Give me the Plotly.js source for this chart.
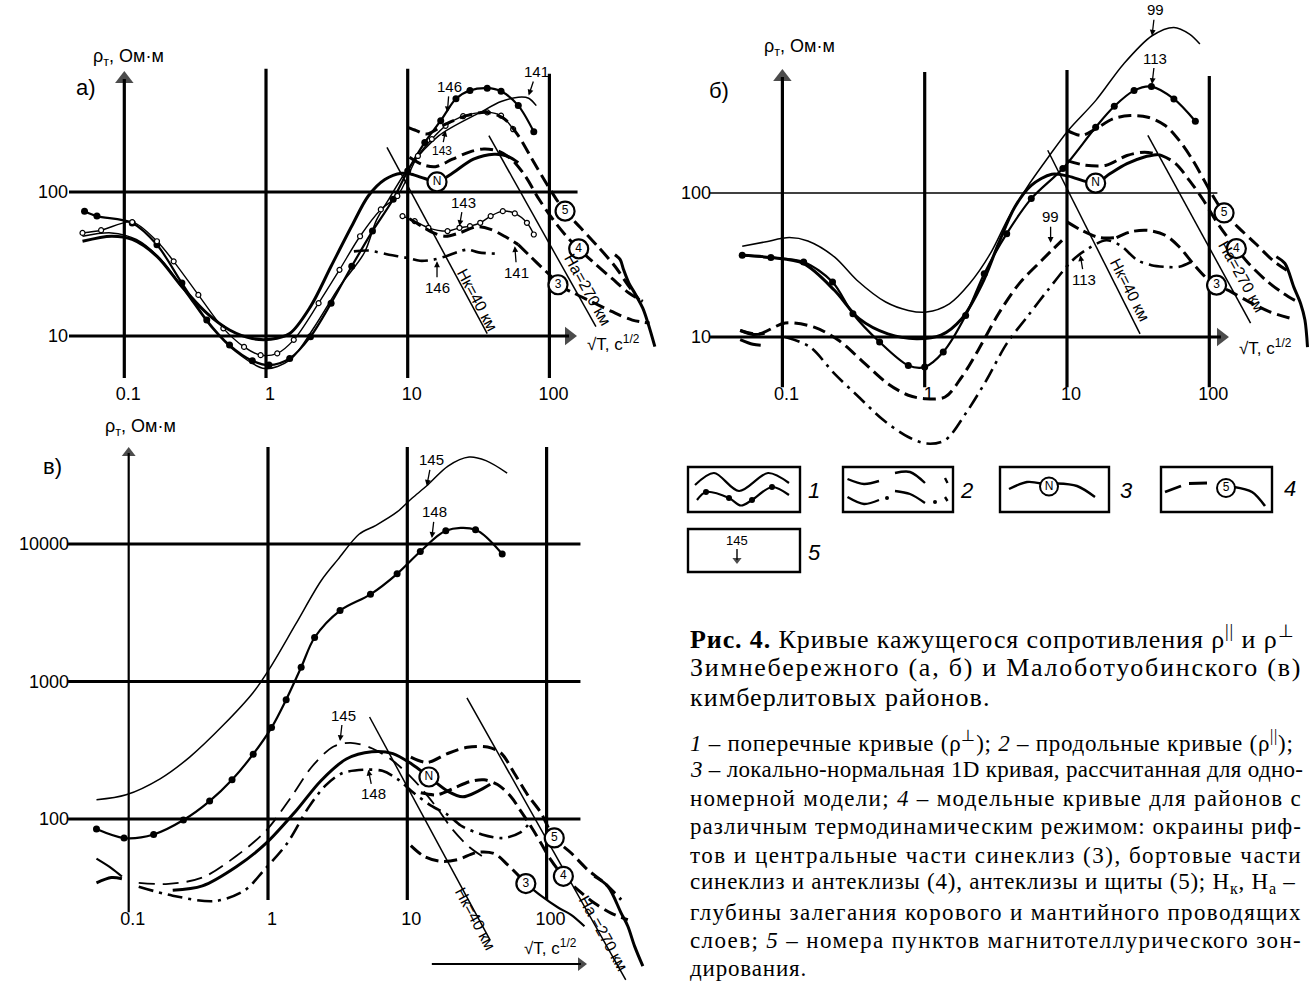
<!DOCTYPE html>
<html><head><meta charset="utf-8">
<script src="https://cdn.plot.ly/plotly-3.0.1.min.js"></script>
<style>html,body{margin:0;padding:0;background:#fff;}#chart{width:1310px;height:983px;}</style>
</head><body><div id="chart"></div>
<script>
// ================= DATA =================
// ---- Panel а) ----
const a_T146_x=[0.0524,0.0641,0.1137,0.170,0.255,0.382,0.553,0.801,1.05,1.47,2.06,2.88,4.03,5.64,7.9,10,13.2,17.1,21.9,27.5,36.4,45.6,60.3,77.6];
const a_T146_y=[73.6,68,61,43,23.3,12.9,8.65,6.73,6.28,6.98,9.9,16.9,30.5,53.5,89,140,221,313,444,507,526,501,398,262];
const a_T141_x=[0.0507,0.0811,0.1216,0.182,0.273,0.408,0.612,0.98,1.47,2.2,3.3,4.93,6.03,7.4,10,16.6,32.5,45.6,60.3,71.4,80.8];
const a_T141_y=[49.3,52,46.8,33.9,19.9,11.6,7.78,5.94,6.8,11.6,22,37.7,64,90,144,246,357,425,455,448,398];
const a_T143_x=[0.0507,0.0686,0.1137,0.170,0.223,0.333,0.5,0.7,0.916,1.2,1.57,2.35,3.3,4.61,6.46,8.45,11.8,14.8,18.5,24.6,36.4,45.6,55.5];
const a_T143_y=[52,54.3,61.8,45.5,33,19.3,11.3,8.4,7.36,7.57,9.4,16.9,28.8,49.3,75.7,93.8,178,233,288,336,357,339,273];
const a_N_x=[0.0507,0.0811,0.1137,0.170,0.255,0.382,0.553,0.80,1.08,1.47,2.06,2.88,4.03,5.27,6.9,9.04,10.6,13.2,16.1,20.2,29.1,40.7,51,60.3];
const a_N_y=[45.5,49.3,46.8,35.7,22,14.4,11,9.6,9.5,10.4,16,30.5,58,93.8,122,135,133,124,117.5,133,169,183,177,160];
const a_M5_x=[10,11.5,13.6,18.5,26,36.4,48.2,60.3,75.5,94.6,112,129,166,219,290,364,430];
const a_M5_y=[281,267,253,296,339,357,321,246,169,116,89,73.6,56.4,42,30.5,22.1,17.8];
const a_M4_x=[10.3,12.5,15.7,20.7,27.5,34.4,43.1,54,67.5,84.5,106,132,161,207,275,364,456];
const a_M4_y=[174,156,150,169,190,199,193,169,129,89,64.4,49.3,40.3,32.1,25.2,19.9,17.4];
const a_M3_x=[60.3,73.4,89.4,103,115,148,196,275,385,509];
const a_M3_y=[43.1,35.7,29.6,25.9,22.7,19.9,17.4,14.8,12.9,12.3];
const a_tail_x=[290,316,334,364,407,456,496,555];
const a_tail_y=[36.7,33.9,28.8,23.3,19.3,15.6,12.3,8.43];
const a_L143_x=[9.19,11.2,14,19.1,23.2,27.5,32.5,38.5,46.9,57,69.4,77.6];
const a_L143_y=[68,62.8,56.4,53.5,56.4,58,61.1,68,73.6,71,61.1,50.7];
const a_L141_x=[10.3,12.5,15.2,18.5,23.2,30.8,38.5,48.2,60.3];
const a_L141_y=[65.2,58,52,49.3,52,57.3,55,49.3,43.1];
const a_L146_x=[4.17,5.27,7.38,10,12.2,15.2,18.5,23.2,26.7,31.6,41.9];
const a_L146_y=[38.7,39.2,36.7,34.8,33.3,33.9,35.7,38.7,39.8,38.1,37.3];
const a_Hk_x=[7.14,36.4], a_Hk_y=[204,10.4];
const a_Ha_x=[37.4,213], a_Ha_y=[246,11.6];
const a_circ_x=[16.1,129,161,115], a_circ_y=[117.5,73.6,40.3,22.7], a_circ_t=['N','5','4','3'];
const a_lab_t=['146','141','143','143','141','146'];
const a_lab_x=[19.05,71.4,18.5,23.2,57,16.1], a_lab_y=[357,468,267,58,42,33];

// ---- Panel б) ----
const b_T99_x=[0.0522,0.0752,0.112,0.151,0.232,0.334,0.532,0.767,1.03,1.49,2.07,2.89,3.9,5.25,7.32,10.2,15.9,25,39.6,56.4,72.6,85.9];
const b_T99_y=[42.7,45.7,49,46.4,36,24.8,17.5,15.3,14.9,17,23.5,37.9,68,110,175,272,438,787,1236,1413,1271,1084];
const b_T113_x=[0.0522,0.083,0.141,0.225,0.313,0.482,0.767,1.0,1.35,1.94,2.62,3.77,5.61,9.35,15.9,21.5,29.6,39.2,56.4,79.8];
const b_T113_y=[36.9,35.6,33.2,24.1,14.5,9.23,6.35,6.19,7.87,14.1,27.5,52.2,91.4,148,286,400,514,548,450,315];
const b_N_x=[0.0522,0.083,0.141,0.232,0.346,0.551,0.875,1.30,1.82,2.53,3.3,4.3,5.61,7.82,10.2,15.9,20,26.4,35,43.8];
const b_N_y=[36.9,35.6,32.3,21.1,13.4,10.5,9.73,10.3,13.4,23.4,44.5,80,113,135,131,117,136,160,178,185];
const b_M5_x=[10,12.7,15.9,21.1,27.9,37,49,61.4,76.8,93.5,110.7,127,159,211,279,350];
const b_M5_y=[272,251,279,328,345,336,294,232,168,119,89,72.7,58,44.6,34.1,29.1];
const b_M4_x=[10,13.5,18.9,26.4,35,46.3,58,72.6,91,110.7,131,155,189,250,331,414];
const b_M4_y=[168,156,156,182,192,182,160,122,89,64.7,51,41.1,32.4,24.8,20.1,17.6];
const b_M3_x=[22.3,27.9,37,49,61.4,76.8,96.2,112.5,142.5,189,264,370];
const b_M3_y=[49,53.7,55,50.9,42.3,32.4,25.5,22.9,20.6,17.6,15,13.5];
const b_tail_x=[296,340,392,438,470,490];
const b_tail_y=[36.1,32.4,22.3,17.1,13.1,8.5];
const b_L99_x=[0.0505,0.068,0.1047,0.167,0.248,0.37,0.551,0.767,1.0,1.39,1.82,2.37,3.3,4.6,6.63,9.23];
const b_L99_y=[11.1,10.5,12.5,11.7,9.48,6.7,4.74,3.94,3.73,3.83,5.27,8.07,14.5,23.4,34,46.9];
const b_L99r_x=[10,12.7,16.9,22.3];
const b_L99r_y=[63,55,49,49];
const b_L113_x=[0.1047,0.156,0.232,0.334,0.515,0.767,1.03,1.39,1.94,2.71,3.77,5.25,7.32,10.9,14.1,18.9,23.6,31.3,39.2,49,61.4,74.7];
const b_L113_y=[10,8.53,5.56,3.94,2.64,2.02,1.82,1.92,2.94,5.0,9.0,13.8,21.1,34,41.1,47,43.4,34.1,31.5,30.7,30.7,33.3];
const b_left1_x=[0.0505,0.062,0.075], b_left1_y=[11.1,10.4,10.6];
const b_left2_x=[0.0505,0.062,0.0704], b_left2_y=[9.6,8.9,8.75];
const b_Hk_x=[7.32,32.6], b_Hk_y=[198,10.5];
const b_Ha_x=[37,195], b_Ha_y=[251,12.5];
const b_circ_x=[15.9,127,155,112.5], b_circ_y=[117,72.7,41.1,22.9], b_circ_t=['N','5','4','3'];
const b_lab_t=['99','113','99','113'];
const b_lab_x=[39.6,39.6,7.67,12.4], b_lab_y=[1236,571,45.1,37];

// ---- Panel в) ----
const c_T145_x=[0.0587,0.0959,0.168,0.274,0.48,0.783,1.04,1.58,2.4,3.18,4.5,5.96,8.45,10.8,13.8,19.6,27.8,36.7,52.1];
const c_T145_y=[138,150,196,282,484,832,1268,2612,5383,7727,11780,13680,17100,21500,26500,36900,42900,40400,32800];
const c_T148_x=[0.0587,0.0926,0.151,0.247,0.381,0.552,0.783,1.06,1.35,1.73,2.16,3.29,5.44,8.45,12.4,18.9,30.9,48];
const c_T148_y=[84.5,72.7,77.2,98.3,135,193,296,462,738,1268,2089,3281,4303,6067,8815,12500,12700,8450];
const c_N_x=[0.207,0.338,0.592,0.966,1.58,2.4,3.65,5.56,7.88,10.8,14.3,19.6,25,32,39.4];
const c_N_y=[30.3,32.6,44.9,66.4,114,190,273,308,299,250,202,159,145,159,179];
const c_M5_x=[10.6,13.9,19.4,27,37.7,47,58.5,73,91,113.5,150,197,260,343];
const c_M5_y=[282,258,299,332,334,302,216,150,111,72.8,56.6,42.8,34.3,25.9];
const c_M4_x=[12.5,16.4,21.7,28.6,35.6,44.4,55.3,65.3,77.1,91,107,132,167,220,290,383];
const c_M4_y=[155,150,168,188,193,178,146,114,88.5,66.9,50.6,38.3,30.6,24.5,20.7,18.5];
const c_M3_x=[10.6,13.2,17.4,22.9,31.9,42.1,52.4,61.9,71];
const c_M3_y=[64,53.5,49.2,50.6,57.2,56,46.6,39.4,33.9];
const c_M3r_x=[71,91,120,150,187];
const c_M3r_y=[33.9,27.7,22.8,20.1,16.6];
const c_tail_x=[220,275,343,383,428,491];
const c_tail_y=[38.3,32.4,20.7,16.6,11.9,8.5];
const c_L145_x=[0.118,0.193,0.338,0.592,0.966,1.47,2.08,2.96,3.92,5.56,7.88,11.2,15.9,21,27.8,34.3];
const c_L145_y=[34.3,33.7,37.5,53.8,82,145,242,337,358,327,265,191,125,84.5,62.6,53.8];
const c_L148_x=[0.118,0.207,0.417,0.681,0.933,1.37,1.95,2.57,3.4,4.83,6.62,8.45,11.2,14.8,19.6,24.2,34.3,48.6,64.4,76.6];
const c_L148_y=[32.2,27.7,25.3,30.3,42.3,66.4,121,174,215,228,224,196,154,125,107,89.7,77.2,72.7,79.6,95.3];
const c_left1_x=[0.0587,0.075,0.0894], c_left1_y=[51.5,44,38.2];
const c_left2_x=[0.0587,0.075,0.0894], c_left2_y=[34.3,37.5,36.8];
const c_Hk_x=[5.36,39.4], c_Hk_y=[552,13.1];
const c_Ha_x=[26.8,370], c_Ha_y=[760,6.75];
const c_circ_x=[14.3,113.5,132,71], c_circ_y=[202,72.8,38.3,33.9], c_circ_t=['N','5','4','3'];
const c_lab_t=['145','148','145','148'];
const c_lab_x=[13.8,15,3.29,5.25], c_lab_y=[26500,11070,369,228];

// tick labels
const xTickVals=[0.1,1,10,100], xTickText=['0.1','1','10','100'];
const abTickVals=[10,100], abTickText=['10','100'];
const cTickVals=[100,1000,10000], cTickText=['100','1000','10000'];

// caption
const capMain=['<b>Рис. 4.</b> Кривые кажущегося сопротивления ρ<sup>||</sup> и ρ<sup>⊥</sup>',
 'Зимнебережного (а, б) и Малоботуобинского (в)',
 'кимберлитовых районов.'];
const capSmall=['<i>1</i> – поперечные кривые (ρ<sup>⊥</sup>); <i>2</i> – продольные кривые (ρ<sup>||</sup>);',
 '<i>3</i> – локально-нормальная 1D кривая, рассчитанная для одно-',
 'номерной модели; <i>4</i> – модельные кривые для районов с',
 'различным термодинамическим режимом: окраины риф-',
 'тов и центральные части синеклиз (3), бортовые части',
 'синеклиз и антеклизы (4), антеклизы и щиты (5); H<sub>к</sub>, H<sub>а</sub> –',
 'глубины залегания корового и мантийного проводящих',
 'слоев; <i>5</i> – номера пунктов магнитотеллурического зон-',
 'дирования.'];

// ================= DRAWING =================
const W=1310,H=983;
const L=Math.log10;
const AX={a:['x','y'],b:['x2','y2'],c:['x3','y3'],o:['x4','y4']};
function tr(xs,ys,ax,st){
  const t={type:'scatter',x:xs,y:ys,xaxis:ax[0],yaxis:ax[1],mode:'lines',hoverinfo:'skip',
    line:{color:'#000',width:st.w||2,dash:st.dash||'solid',shape:st.lin?'linear':'spline',smoothing:0.9}};
  if(st.marker){t.mode='lines+markers';t.marker=st.marker;}
  return t;
}
const S_THICK={w:3}, S_THIN={w:1.5}, S_MED={w:2.2};
const S_DOT={w:2.2,marker:{size:7,color:'#000'}};
const S_OPEN={w:1.4,marker:{size:5,color:'#fff',line:{color:'#000',width:1.2}}};
const S_DASH={w:3,dash:'13px,6px'};
const S_DASHDOT={w:2.6,dash:'15px,6px,3px,6px'};
const S_LDASH={w:1.8,dash:'16px,8px'};
const S_GRID={w:3.2,lin:true}, S_GRIDTHIN={w:1.3,lin:true}, S_HK={w:1.5,lin:true};

const traces=[];
function vline(x,y0,y1,ax,st){traces.push(tr([x,x],[y0,y1],ax,st));}
function hline(y,x0,x1,ax,st){traces.push(tr([x0,x1],[y,y],ax,st));}
function arrowLine(xs,ys,ax,w,sym,sz){
  const t=tr(xs,ys,ax,{w:w,lin:true});
  t.mode='lines+markers';
  t.marker={symbol:['circle',sym],size:[0,sz],color:'#000',line:{width:0}};
  traces.push(t);
}
// a
vline(1,5.1,718,AX.a,S_GRID); vline(10,5.1,718,AX.a,S_GRID); vline(100,5.1,662,AX.a,S_GRID);
hline(100,0.0407,158,AX.a,S_GRID);
arrowLine([0.1,0.1],[5.1,610],AX.a,3.2,'triangle-up',16);
arrowLine([0.0407,137.5],[10,10],AX.a,3.2,'triangle-right',16);
// b
vline(1,4.47,692,AX.b,S_GRID); vline(10,4.47,714,AX.b,S_GRID); vline(100,4.47,649,AX.b,S_GRID);
hline(100,0.031,114,AX.b,S_GRIDTHIN);
arrowLine([0.1,0.1],[4.47,640],AX.b,3.2,'triangle-up',16);
arrowLine([0.031,120.8],[10,10],AX.b,3.2,'triangle-right',16);
// c
vline(1,25.8,50700,AX.c,S_GRID); vline(10,25.8,50700,AX.c,S_GRID); vline(100,25.8,50700,AX.c,S_GRID);
[100,1000,10000].forEach(v=>hline(v,0.0367,175,AX.c,S_GRID));
arrowLine([0.1,0.1],[21,45900],AX.c,2.2,'triangle-up',12);
arrowLine([15,176.6],[8.81,8.81],AX.c,2,'triangle-right',12);

// Hk / Ha
traces.push(tr(a_Hk_x,a_Hk_y,AX.a,S_HK),tr(a_Ha_x,a_Ha_y,AX.a,S_HK));
traces.push(tr(b_Hk_x,b_Hk_y,AX.b,S_HK),tr(b_Ha_x,b_Ha_y,AX.b,S_HK));
traces.push(tr(c_Hk_x,c_Hk_y,AX.c,S_HK),tr(c_Ha_x,c_Ha_y,AX.c,S_HK));

// curves a
traces.push(tr(a_T146_x,a_T146_y,AX.a,S_DOT));
traces.push(tr(a_T141_x,a_T141_y,AX.a,S_THIN));
traces.push(tr(a_T143_x,a_T143_y,AX.a,S_OPEN));
traces.push(tr(a_N_x,a_N_y,AX.a,S_THICK));
traces.push(tr(a_M5_x,a_M5_y,AX.a,S_DASH));
traces.push(tr(a_M4_x,a_M4_y,AX.a,S_DASH));
traces.push(tr(a_M3_x,a_M3_y,AX.a,S_DASH));
traces.push(tr(a_tail_x,a_tail_y,AX.a,S_THICK));
traces.push(tr(a_L143_x,a_L143_y,AX.a,S_OPEN));
traces.push(tr(a_L141_x,a_L141_y,AX.a,S_DASH));
traces.push(tr(a_L146_x,a_L146_y,AX.a,S_DASHDOT));
// curves b
traces.push(tr(b_T99_x,b_T99_y,AX.b,S_THIN));
traces.push(tr(b_T113_x,b_T113_y,AX.b,S_DOT));
traces.push(tr(b_N_x,b_N_y,AX.b,S_THICK));
traces.push(tr(b_M5_x,b_M5_y,AX.b,S_DASH));
traces.push(tr(b_M4_x,b_M4_y,AX.b,S_DASH));
traces.push(tr(b_M3_x,b_M3_y,AX.b,S_DASH));
traces.push(tr(b_tail_x,b_tail_y,AX.b,S_THICK));
traces.push(tr(b_L99_x,b_L99_y,AX.b,S_DASH));
traces.push(tr(b_L99r_x,b_L99r_y,AX.b,S_DASH));
traces.push(tr(b_L113_x,b_L113_y,AX.b,S_DASHDOT));
traces.push(tr(b_left1_x,b_left1_y,AX.b,S_THICK));
traces.push(tr(b_left2_x,b_left2_y,AX.b,S_THICK));
// curves c
traces.push(tr(c_T145_x,c_T145_y,AX.c,S_THIN));
traces.push(tr(c_T148_x,c_T148_y,AX.c,S_DOT));
traces.push(tr(c_N_x,c_N_y,AX.c,S_THICK));
traces.push(tr(c_M5_x,c_M5_y,AX.c,S_DASH));
traces.push(tr(c_M4_x,c_M4_y,AX.c,S_DASH));
traces.push(tr(c_M3_x,c_M3_y,AX.c,S_DASH));
traces.push(tr(c_M3r_x,c_M3r_y,AX.c,S_MED));
traces.push(tr(c_tail_x,c_tail_y,AX.c,S_THICK));
traces.push(tr(c_L145_x,c_L145_y,AX.c,S_LDASH));
traces.push(tr(c_L148_x,c_L148_y,AX.c,S_DASHDOT));
traces.push(tr(c_left1_x,c_left1_y,AX.c,S_MED));
traces.push(tr(c_left2_x,c_left2_y,AX.c,S_THICK));

// circled labels
function circ(xs,ys,ts,ax){
  traces.push({type:'scatter',x:xs,y:ys,text:ts,xaxis:ax[0],yaxis:ax[1],mode:'markers+text',hoverinfo:'skip',
    cliponaxis:false,marker:{size:19,color:'#fff',line:{color:'#000',width:2.2}},
    textposition:'middle center',textfont:{family:'Liberation Sans, Arial',size:12,color:'#000'}});
}
circ(a_circ_x,a_circ_y,a_circ_t,AX.a);
circ(b_circ_x,b_circ_y,b_circ_t,AX.b);
circ(c_circ_x,c_circ_y,c_circ_t,AX.c);

// ---- legend glyphs (overlay pixel space) ----
function g(pts,st){traces.push(tr(pts.map(p=>p[0]),pts.map(p=>p[1]),AX.o,st));}
g([[695,485],[714,473],[739,491],[768,473],[789,483]],{w:2.2});
g([[697,500],[706,492],[729,498],[741,505.5],[752,500],[772,487],[789,495]],{w:2.2});
traces.push({type:'scatter',x:[706,729,752,772],y:[492,498,500,487],xaxis:'x4',yaxis:'y4',mode:'markers',hoverinfo:'skip',marker:{size:6,color:'#000'}});
g([[847.5,479],[864,484],[879,481]],{w:2.4});
g([[847.5,497],[864,504],[879,500]],{w:2.4});
g([[895,473],[910,472],[925,483]],{w:2.4});
g([[895,491],[910,494],[925,503]],{w:2.4});
g([[945,478],[947.5,483]],{w:2.4,lin:true});
g([[945,497],[947.5,501]],{w:2.4,lin:true});
traces.push({type:'scatter',x:[887,935],y:[498,502],xaxis:'x4',yaxis:'y4',mode:'markers',hoverinfo:'skip',marker:{size:4,color:'#000'}});
g([[1009,489],[1027,482],[1041,483.5]],{w:2.4});
g([[1057,483.5],[1077,486],[1095,497]],{w:2.4});
g([[1165,492],[1181,486]],{w:2.8,lin:true});
g([[1189,483.5],[1207,483]],{w:2.8,lin:true});
g([[1234,487],[1252,492],[1265,506]],{w:2.6});
traces.push({type:'scatter',x:[1049,1226],y:[486.5,488],text:['N','5'],xaxis:'x4',yaxis:'y4',mode:'markers+text',hoverinfo:'skip',
  marker:{size:18,color:'#fff',line:{color:'#000',width:2}},textposition:'middle center',textfont:{family:'Liberation Sans, Arial',size:12,color:'#000'}});
(function(){const t=tr([737,737],[549,560],AX.o,{w:1.4,lin:true});t.mode='lines+markers';
  t.marker={symbol:['circle','triangle-down'],size:[0,8],color:'#000',line:{width:0}};traces.push(t);})();

// ================= LAYOUT =================
const fx=p=>p/W, fy=p=>1-p/H;
const tickFont={family:'Liberation Sans, Arial',size:18,color:'#000'};
function xax(dom,rng,posPx){return {type:'log',domain:[fx(dom[0]),fx(dom[1])],range:rng,anchor:'free',position:fy(posPx),
  showgrid:false,zeroline:false,showline:false,ticks:'',tickvals:xTickVals,ticktext:xTickText,tickfont:tickFont,ticklabelshift:4,fixedrange:true};}
function yax(dom,rng,posPx,tv,tt){return {type:'log',domain:[fy(dom[1]),fy(dom[0])],range:rng,anchor:'free',position:fx(posPx),
  showgrid:false,zeroline:false,showline:false,ticks:'',tickvals:tv,ticktext:tt,tickfont:tickFont,fixedrange:true};}

const ann=[];
function labs(ts,xs,ys,xr,yr,offs){ts.forEach((t,i)=>ann.push({xref:xr,yref:yr,x:L(xs[i]),y:L(ys[i]),text:t,showarrow:true,
  arrowhead:2,arrowsize:0.9,arrowwidth:1.3,arrowcolor:'#000',ax:offs[i][0],ay:offs[i][1],standoff:0,
  font:{family:'Liberation Sans, Arial',size:offs[i][2]||15,color:'#000'}}));}
labs(a_lab_t,a_lab_x,a_lab_y,'x','y',[[2,-26],[8,-24],[-4,20,12],[4,-24],[2,26],[0,26]]);
labs(b_lab_t,b_lab_x,b_lab_y,'x2','y2',[[3,-26],[3,-26],[0,-26],[4,24]]);
labs(c_lab_t,c_lab_x,c_lab_y,'x3','y3',[[5,-26],[3,-26],[3,-26],[5,24]]);
function hk(xr,yr,x,y,t,ang){ann.push({xref:xr,yref:yr,x:x,y:y,text:t,showarrow:false,textangle:ang,font:{family:'Liberation Sans, Arial',size:16,color:'#000'}});}
hk('x','y',1.488,1.251,'Нк=40 км',62); hk('x','y',2.268,1.321,'На=270 км',61);
hk('x2','y2',1.446,1.326,'Нк=40 км',63); hk('x2','y2',2.227,1.418,'На=270 км',61);
hk('x3','y3',1.49,1.28,'Нк=40 км',62); hk('x3','y3',2.41,1.17,'На =270 км',61);
function pt(x,y,t,sz,fam,xa,extra){ann.push(Object.assign({xref:'x4',yref:'y4',x:x,y:y,text:t,showarrow:false,xanchor:xa||'center',yanchor:'middle',
  font:{family:fam||'Liberation Sans, Arial',size:sz,color:'#000'}},extra||{}));}
const SERIF='Liberation Serif, Times New Roman';
pt(128,57,'ρ<sub>т</sub>, Ом·м',18); pt(86,87,'а)',22);
pt(799,47,'ρ<sub>т</sub>, Ом·м',18); pt(719,90,'б)',22);
pt(140,427,'ρ<sub>т</sub>, Ом·м',18); pt(52,466,'в)',22);
pt(613,343,'√T, c<sup>1/2</sup>',17); pt(1265,347,'√T, c<sup>1/2</sup>',17); pt(550,947,'√T, c<sup>1/2</sup>',17);
pt(814,490,'<i>1</i>',22); pt(966,490,'<i>2</i>',22); pt(1126,490,'<i>3</i>',22); pt(1290,488,'<i>4</i>',22); pt(814,552,'<i>5</i>',22);
pt(737,540,'145',13);

// caption: justify full lines by letter spacing (measured with canvas)
const ctx=document.createElement('canvas').getContext('2d');
function plainW(html,size){const s=html.replace(/<[^>]+>/g,'');ctx.font=size+'px "Liberation Serif"';return [ctx.measureText(s).width,s.length];}
function justify(lines,size,fullUpTo,target){
  const sp=lines.map((h,i)=>{const m=plainW(h,size);return i<fullUpTo?Math.max(0,(target-688-m[0])/m[1]):null;});
  const avg=sp.filter(v=>v!==null).reduce((a,b)=>a+b,0)/fullUpTo;
  return lines.map((h,i)=>'<span style="letter-spacing:'+((sp[i]===null?avg*0.8:sp[i]).toFixed(2))+'px">'+h+'</span>');
}
const capMainJ=justify(capMain,26,2,1300);
const capSmallJ=justify(capSmall,23,8,1300);
const capY=[637,667,697], capSY=[741,769,798,826,855,883,912,940,968];
capMainJ.forEach((t,i)=>pt(688,capY[i],t,26,SERIF,'left',{align:'left'}));
capSmallJ.forEach((t,i)=>pt(688,capSY[i],t,23,SERIF,'left',{align:'left'}));

const shapes=[[688,467,800,512],[843,467,953,512],[1000,467,1109,512],[1161,467,1272,512],[688,529,800,572]].map(r=>({
  type:'rect',xref:'x4',yref:'y4',x0:r[0],y0:r[1],x1:r[2],y1:r[3],line:{color:'#000',width:2.4},fillcolor:'rgba(0,0,0,0)'}));

const layout={width:W,height:H,margin:{l:0,r:0,t:0,b:0},paper_bgcolor:'#fff',plot_bgcolor:'rgba(0,0,0,0)',showlegend:false,
  xaxis:xax([50,660],[-1.5244,2.7805],381),
  yaxis:yax([55,385],[0.6597,2.9514],68,abTickVals,abTickText),
  xaxis2:xax([700,1310],[-1.5791,2.7077],381),
  yaxis2:yax([0,460],[0.1458,3.3403],711,abTickVals,abTickText),
  xaxis3:xax([50,660],[-1.5650,2.8141],906),
  yaxis3:yax([440,983],[0.8073,4.7564],69,cTickVals,cTickText),
  xaxis4:{domain:[0,1],range:[0,W],anchor:'y4',visible:false,fixedrange:true},
  yaxis4:{domain:[0,1],range:[H,0],anchor:'x4',visible:false,fixedrange:true},
  annotations:ann,shapes:shapes};
Plotly.newPlot('chart',traces,layout,{staticPlot:true,displayModeBar:false});
</script></body></html>
